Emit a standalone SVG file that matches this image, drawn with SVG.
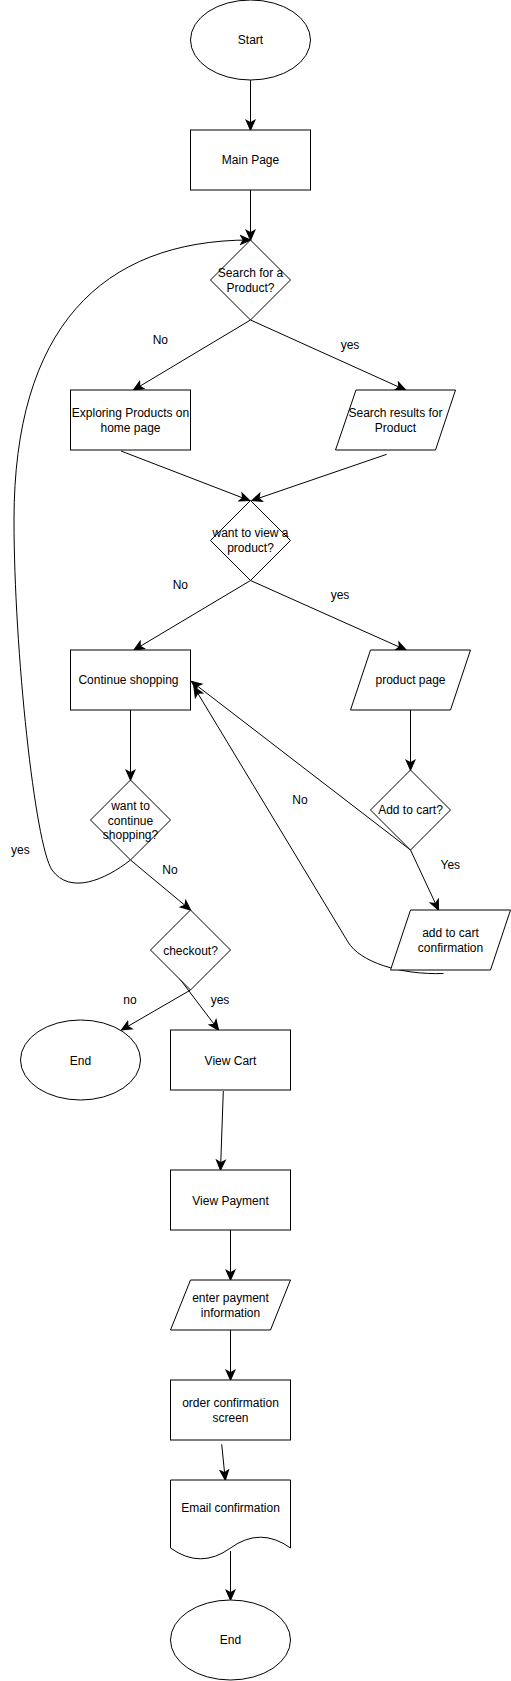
<svg xmlns="http://www.w3.org/2000/svg" width="511" height="1681" viewBox="0 0 511 1681">
<defs>
<style>
.s{fill:#ffffff;stroke:#000000;stroke-width:1}
.t{font-family:"Liberation Sans",Arial,Helvetica,sans-serif;font-size:12px;fill:#000000;text-anchor:middle}
.c{fill:none;stroke:#000000;stroke-width:1;marker-end:url(#arr)}
</style>
<marker id="arr" markerUnits="userSpaceOnUse" markerWidth="12" markerHeight="12" viewBox="-9 -5 10 10" refX="0" refY="0" orient="auto">
<path d="M0,0 L-8,-3.5 L-6,0 L-8,3.5 Z" fill="#000000" stroke="#000000" stroke-width="1"/>
</marker>
</defs>
<rect width="511" height="1681" fill="#ffffff"/>

<g id="connectors">
<path class="c" d="M250.5,80 L250.5,130"/>
<path class="c" d="M250.5,190 L250.5,240"/>
<path class="c" d="M250.5,320 L133.5,390"/>
<path class="c" d="M250.5,320 L405.5,390"/>
<path class="c" d="M121,451 L249.5,500.5"/>
<path class="c" d="M386.7,454.3 L252,500.5"/>
<path class="c" d="M250.5,580.5 L134,650"/>
<path class="c" d="M250.5,580.5 L406,650"/>
<path class="c" d="M410.5,710 L410.5,770"/>
<path class="c" d="M130.5,710 L130.5,780"/>
<path class="c" d="M130.5,860 C105,880 70,895 52,870 C35,845 14,650 14,520 C14,330 100,240 250.5,240"/>
<path class="c" d="M130.5,860 L190.5,910"/>
<path class="c" d="M410.5,850 L191.5,681.5"/>
<path class="c" d="M410.5,850 L438.5,910"/>
<path class="c" d="M443.5,973.5 C400,975 360,962 348,942 L194,687"/>
<path class="c" d="M190.5,990 L121.5,1030"/>
<path class="c" d="M170,966 L218.5,1030"/>
<path class="c" d="M223.3,1091 L220.5,1170"/>
<path class="c" d="M230.5,1230 L230.5,1280"/>
<path class="c" d="M230.5,1330 L230.5,1380"/>
<path class="c" d="M221.7,1444.3 L225.3,1480"/>
<path class="c" d="M230.5,1551 L230.5,1600"/>
</g>

<g id="labels">
<text class="t" x="160.3" y="344">No</text>
<text class="t" x="350" y="349">yes</text>
<text class="t" x="180.3" y="589">No</text>
<text class="t" x="340" y="599">yes</text>
<text class="t" x="20.3" y="854">yes</text>
<text class="t" x="170" y="874">No</text>
<text class="t" x="300" y="804">No</text>
<text class="t" x="450.3" y="869">Yes</text>
<text class="t" x="130" y="1004">no</text>
<text class="t" x="220" y="1004">yes</text>
</g>

<g id="start">
<ellipse class="s" cx="250.5" cy="40" rx="60" ry="40"/>
<text class="t" x="250.5" y="44">Start</text>
</g>
<g id="main-page">
<rect class="s" x="190.5" y="130" width="120" height="60"/>
<text class="t" x="250.5" y="164">Main Page</text>
</g>
<g id="search-decision">
<path class="s" d="M250.5,240 L290.5,280 L250.5,320 L210.5,280 Z"/>
<text class="t" x="250.5" y="277">Search for a</text>
<text class="t" x="250.5" y="291.5">Product?</text>
</g>
<g id="exploring">
<rect class="s" x="70.5" y="390" width="120" height="60"/>
<text class="t" x="130.5" y="417">Exploring Products on</text>
<text class="t" x="130.5" y="432">home page</text>
</g>
<g id="search-results">
<path class="s" d="M356,390 L455.5,390 L435.5,450 L335.5,450 Z"/>
<text class="t" x="395.5" y="417">Search results for</text>
<text class="t" x="395.5" y="432">Product</text>
</g>
<g id="view-product-decision">
<path class="s" d="M250.5,500.5 L290.5,540.5 L250.5,580.5 L210.5,540.5 Z"/>
<text class="t" x="250.5" y="537">want to view a</text>
<text class="t" x="250.5" y="551.5">product?</text>
</g>
<g id="continue-shopping">
<rect class="s" x="70.5" y="650" width="120" height="60"/>
<text class="t" x="128.5" y="684">Continue shopping</text>
</g>
<g id="product-page">
<path class="s" d="M370.5,650 L470.5,650 L450.5,710 L350.5,710 Z"/>
<text class="t" x="410.5" y="684">product page</text>
</g>
<g id="add-to-cart-decision">
<path class="s" d="M410.5,770 L450.5,810 L410.5,850 L370.5,810 Z"/>
<text class="t" x="410.5" y="813.5">Add to cart?</text>
</g>
<g id="continue-decision">
<path class="s" d="M130.5,780 L170.5,820 L130.5,860 L90.5,820 Z"/>
<text class="t" x="130.5" y="810">want to</text>
<text class="t" x="130.5" y="824.5">continue</text>
<text class="t" x="130.5" y="839">shopping?</text>
</g>
<g id="add-to-cart-confirmation">
<path class="s" d="M410.5,910 L510.5,910 L490.5,970 L390.5,970 Z"/>
<text class="t" x="450.5" y="937">add to cart</text>
<text class="t" x="450.5" y="952">confirmation</text>
</g>
<g id="checkout-decision">
<path class="s" d="M190.5,910 L230.5,950 L190.5,990 L150.5,950 Z"/>
<text class="t" x="190.5" y="954.5">checkout?</text>
</g>
<g id="end-1">
<ellipse class="s" cx="80.5" cy="1060" rx="60" ry="40"/>
<text class="t" x="80.5" y="1064.5">End</text>
</g>
<g id="view-cart">
<rect class="s" x="170.5" y="1030" width="120" height="60"/>
<text class="t" x="230.5" y="1064.5">View Cart</text>
</g>
<g id="view-payment">
<rect class="s" x="170.5" y="1170" width="120" height="60"/>
<text class="t" x="230.5" y="1204.5">View Payment</text>
</g>
<g id="enter-payment">
<path class="s" d="M190.5,1280 L290.5,1280 L270.5,1330 L170.5,1330 Z"/>
<text class="t" x="230.5" y="1302">enter payment</text>
<text class="t" x="230.5" y="1317">information</text>
</g>
<g id="order-confirmation">
<rect class="s" x="170.5" y="1380" width="120" height="60"/>
<text class="t" x="230.5" y="1407">order confirmation</text>
<text class="t" x="230.5" y="1422">screen</text>
</g>
<g id="email-confirmation">
<path class="s" d="M170.5,1480 L290.5,1480 L290.5,1548 Q260.5,1526.4 230.5,1548 Q200.5,1569.6 170.5,1548 Z"/>
<text class="t" x="230.5" y="1512">Email confirmation</text>
</g>
<g id="end-2">
<ellipse class="s" cx="230.5" cy="1640" rx="60" ry="40"/>
<text class="t" x="230.5" y="1644">End</text>
</g>
</svg>
